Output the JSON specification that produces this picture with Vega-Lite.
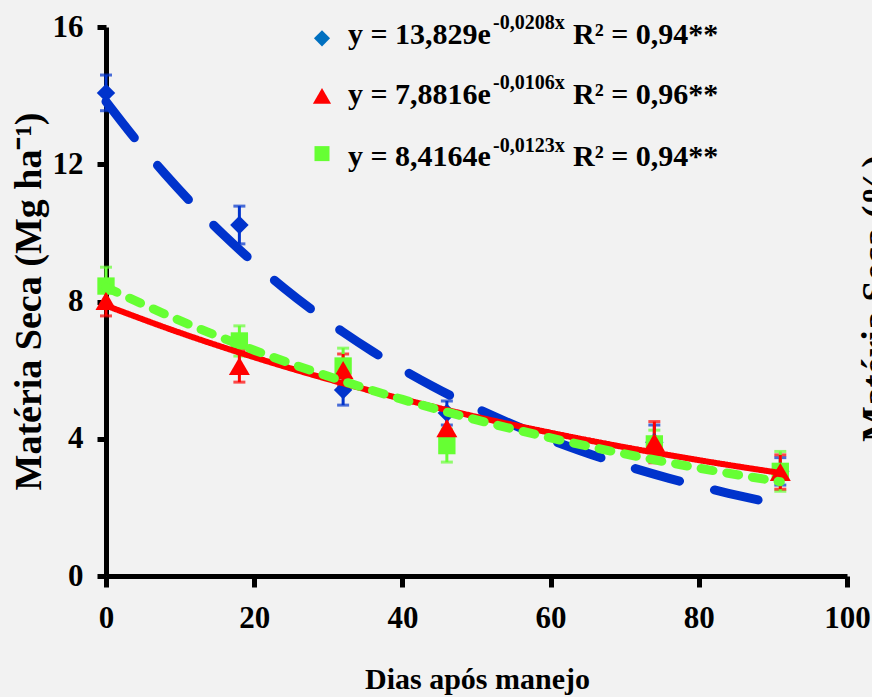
{
  "$schema": "https://vega.github.io/schema/vega-lite/v6.json",
  "width": 741,
  "height": 549,
  "autosize": {"type": "none"},
  "padding": {"left": 106, "top": 27, "right": 25, "bottom": 121},
  "background": "#f2f2f2",
  "config": {
    "view": {"stroke": null},
    "axis": {
      "domainColor": "#000000",
      "domainWidth": 5,
      "tickColor": "#000000",
      "tickWidth": 5,
      "labelColor": "#000000",
      "labelFont": "Liberation Serif",
      "labelFontWeight": "bold",
      "labelFontSize": 31,
      "labelFlush": false,
      "labelOverlap": false,
      "titleFont": "Liberation Serif",
      "titleFontWeight": "bold",
      "titleColor": "#000000",
      "grid": false,
      "zindex": 1
    },
    "axisX": {"tickSize": 11, "labelPadding": 16},
    "axisLeft": {"tickSize": 9, "labelPadding": 14}
  },
  "datasets": {
    "medias": [
      {"serie": "1", "dias": 0, "ms": 14.08, "ep": 0.52},
      {"serie": "1", "dias": 18, "ms": 10.23, "ep": 0.55},
      {"serie": "1", "dias": 32, "ms": 5.42, "ep": 0.44},
      {"serie": "1", "dias": 46, "ms": 4.75, "ep": 0.35},
      {"serie": "1", "dias": 74, "ms": 3.9, "ep": 0.5},
      {"serie": "1", "dias": 91, "ms": 3.05, "ep": 0.4},
      {"serie": "3", "dias": 0, "ms": 8.45, "ep": 0.55},
      {"serie": "3", "dias": 18, "ms": 6.85, "ep": 0.44},
      {"serie": "3", "dias": 32, "ms": 6.12, "ep": 0.52},
      {"serie": "3", "dias": 46, "ms": 3.8, "ep": 0.48},
      {"serie": "3", "dias": 74, "ms": 3.85, "ep": 0.4},
      {"serie": "3", "dias": 91, "ms": 3.05, "ep": 0.58},
      {"serie": "2", "dias": 0, "ms": 8.02, "ep": 0.44},
      {"serie": "2", "dias": 18, "ms": 6.12, "ep": 0.47},
      {"serie": "2", "dias": 32, "ms": 6.0, "ep": 0.47},
      {"serie": "2", "dias": 46, "ms": 4.31, "ep": 0.4},
      {"serie": "2", "dias": 74, "ms": 3.9, "ep": 0.6},
      {"serie": "2", "dias": 91, "ms": 3.03, "ep": 0.5}
    ],
    "curvas": [
      {"serie": "1", "dias": 0, "ms": 13.829},
      {"serie": "1", "dias": 4, "ms": 12.725},
      {"serie": "1", "dias": 8, "ms": 11.709},
      {"serie": "1", "dias": 12, "ms": 10.774},
      {"serie": "1", "dias": 16, "ms": 9.914},
      {"serie": "1", "dias": 20, "ms": 9.123},
      {"serie": "1", "dias": 24, "ms": 8.394},
      {"serie": "1", "dias": 28, "ms": 7.724},
      {"serie": "1", "dias": 32, "ms": 7.108},
      {"serie": "1", "dias": 36, "ms": 6.54},
      {"serie": "1", "dias": 40, "ms": 6.018},
      {"serie": "1", "dias": 44, "ms": 5.538},
      {"serie": "1", "dias": 48, "ms": 5.096},
      {"serie": "1", "dias": 52, "ms": 4.689},
      {"serie": "1", "dias": 56, "ms": 4.314},
      {"serie": "1", "dias": 60, "ms": 3.97},
      {"serie": "1", "dias": 64, "ms": 3.653},
      {"serie": "1", "dias": 68, "ms": 3.361},
      {"serie": "1", "dias": 72, "ms": 3.093},
      {"serie": "1", "dias": 76, "ms": 2.846},
      {"serie": "1", "dias": 80, "ms": 2.619},
      {"serie": "1", "dias": 84, "ms": 2.41},
      {"serie": "1", "dias": 88, "ms": 2.217},
      {"serie": "2", "dias": 0, "ms": 7.882},
      {"serie": "2", "dias": 10, "ms": 7.089},
      {"serie": "2", "dias": 20, "ms": 6.376},
      {"serie": "2", "dias": 30, "ms": 5.735},
      {"serie": "2", "dias": 40, "ms": 5.158},
      {"serie": "2", "dias": 50, "ms": 4.639},
      {"serie": "2", "dias": 60, "ms": 4.173},
      {"serie": "2", "dias": 70, "ms": 3.753},
      {"serie": "2", "dias": 80, "ms": 3.376},
      {"serie": "2", "dias": 90, "ms": 3.036},
      {"serie": "2", "dias": 91, "ms": 3.004},
      {"serie": "3", "dias": 0, "ms": 8.416},
      {"serie": "3", "dias": 10, "ms": 7.442},
      {"serie": "3", "dias": 20, "ms": 6.581},
      {"serie": "3", "dias": 30, "ms": 5.819},
      {"serie": "3", "dias": 40, "ms": 5.146},
      {"serie": "3", "dias": 50, "ms": 4.55},
      {"serie": "3", "dias": 60, "ms": 4.024},
      {"serie": "3", "dias": 70, "ms": 3.558},
      {"serie": "3", "dias": 80, "ms": 3.146},
      {"serie": "3", "dias": 90, "ms": 2.782},
      {"serie": "3", "dias": 91, "ms": 2.748}
    ],
    "legenda": [
      {"serie": "1", "eq": "y = 13,829e", "exp": "-0,0208x", "r2": "R² = 0,94**"},
      {"serie": "2", "eq": "y = 7,8816e", "exp": "-0,0106x", "r2": "R² = 0,96**"},
      {"serie": "3", "eq": "y = 8,4164e", "exp": "-0,0123x", "r2": "R² = 0,94**"}
    ]
  },
  "resolve": {"axis": {"y": "independent"}},
  "layer": [
    {
      "data": {"name": "medias"},
      "mark": {"type": "errorbar", "ticks": true, "size": 12, "thickness": 3},
      "encoding": {
        "x": {"field": "dias", "type": "quantitative", "scale": {"domain": [0, 100], "nice": false}},
        "y": {"field": "ms", "type": "quantitative", "scale": {"domain": [0, 16], "nice": false}, "axis": null},
        "yError": {"field": "ep"},
        "color": {"field": "serie", "type": "nominal", "scale": {"domain": ["1", "2", "3"], "range": ["#0033cc", "#ff0000", "#66ff33"]}, "legend": null}
      }
    },
    {
      "data": {"name": "medias"},
      "mark": {"type": "point", "filled": true, "opacity": 1},
      "encoding": {
        "x": {
          "field": "dias", "type": "quantitative",
          "scale": {"domain": [0, 100], "nice": false},
          "axis": {
            "values": [0, 20, 40, 60, 80, 100],
            "title": "Dias após manejo",
            "titleFontSize": 30,
            "titleX": 371,
            "titleY": 112,
            "titleAlign": "center",
            "titleBaseline": "alphabetic"
          }
        },
        "y": {
          "field": "ms", "type": "quantitative",
          "scale": {"domain": [0, 16], "nice": false},
          "axis": {
            "orient": "left",
            "values": [0, 4, 8, 12, 16],
            "title": "Matéria Seca (Mg ha⁻¹)",
            "titleFontSize": 38,
            "titleAngle": -90,
            "titleX": -66,
            "titleY": 274,
            "titleAlign": "center",
            "titleBaseline": "alphabetic"
          }
        },
        "color": {"field": "serie", "type": "nominal", "scale": {"domain": ["1", "2", "3"], "range": ["#0033cc", "#ff0000", "#66ff33"]}, "legend": null},
        "shape": {"field": "serie", "type": "nominal", "scale": {"domain": ["1", "2", "3"], "range": ["diamond", "triangle-up", "square"]}, "legend": null},
        "size": {"field": "serie", "type": "nominal", "scale": {"type": "ordinal", "domain": ["1", "2", "3"], "range": [340, 440, 300]}, "legend": null}
      }
    },
    {
      "data": {"name": "curvas"},
      "mark": {"type": "line", "strokeCap": "round", "interpolate": "monotone"},
      "encoding": {
        "x": {"field": "dias", "type": "quantitative", "scale": {"domain": [0, 100], "nice": false}},
        "y": {
          "field": "ms", "type": "quantitative",
          "scale": {"domain": [0, 16], "nice": false},
          "axis": {
            "orient": "right",
            "title": "Matéria Seca (%)",
            "labels": false,
            "ticks": false,
            "domain": false,
            "titleFontSize": 38,
            "titleAngle": -90,
            "titleX": 40,
            "titleY": 271,
            "titleAlign": "center",
            "titleBaseline": "alphabetic"
          }
        },
        "color": {"field": "serie", "type": "nominal", "scale": {"domain": ["1", "2", "3"], "range": ["#0033cc", "#ff0000", "#66ff33"]}, "legend": null},
        "strokeDash": {"field": "serie", "type": "nominal", "scale": {"domain": ["1", "2", "3"], "range": [[46, 36], [1, 0], [12, 14]]}, "legend": null},
        "strokeWidth": {"field": "serie", "type": "nominal", "scale": {"type": "ordinal", "domain": ["1", "2", "3"], "range": [9, 6, 9]}, "legend": null}
      }
    },
    {
      "data": {"name": "legenda"},
      "transform": [{"filter": "datum.serie == '1'"}],
      "layer": [
        {
          "mark": {"type": "point", "shape": "diamond", "filled": true, "opacity": 1, "color": "#0070c0", "size": 260},
          "encoding": {"x": {"datum": 29.15, "type": "quantitative"}, "y": {"datum": 15.67, "type": "quantitative", "axis": null}}
        },
        {
          "mark": {"type": "text", "align": "left", "baseline": "alphabetic", "font": "Liberation Serif", "fontWeight": "bold", "fontSize": 30, "color": "#000000"},
          "encoding": {"x": {"datum": 32.66, "type": "quantitative"}, "y": {"datum": 15.51, "type": "quantitative", "axis": null}, "text": {"field": "eq"}}
        },
        {
          "mark": {"type": "text", "align": "left", "baseline": "alphabetic", "font": "Liberation Serif", "fontWeight": "bold", "fontSize": 20, "color": "#000000"},
          "encoding": {"x": {"datum": 52.23, "type": "quantitative"}, "y": {"datum": 15.93, "type": "quantitative", "axis": null}, "text": {"field": "exp"}}
        },
        {
          "mark": {"type": "text", "align": "left", "baseline": "alphabetic", "font": "Liberation Serif", "fontWeight": "bold", "fontSize": 30, "color": "#000000"},
          "encoding": {"x": {"datum": 63.02, "type": "quantitative"}, "y": {"datum": 15.51, "type": "quantitative", "axis": null}, "text": {"field": "r2"}}
        }
      ]
    },
    {
      "data": {"name": "legenda"},
      "transform": [{"filter": "datum.serie == '2'"}],
      "layer": [
        {
          "mark": {"type": "point", "shape": "triangle-up", "filled": true, "opacity": 1, "color": "#ff0000", "size": 330},
          "encoding": {"x": {"datum": 29.15, "type": "quantitative"}, "y": {"datum": 13.99, "type": "quantitative", "axis": null}}
        },
        {
          "mark": {"type": "text", "align": "left", "baseline": "alphabetic", "font": "Liberation Serif", "fontWeight": "bold", "fontSize": 30, "color": "#000000"},
          "encoding": {"x": {"datum": 32.66, "type": "quantitative"}, "y": {"datum": 13.76, "type": "quantitative", "axis": null}, "text": {"field": "eq"}}
        },
        {
          "mark": {"type": "text", "align": "left", "baseline": "alphabetic", "font": "Liberation Serif", "fontWeight": "bold", "fontSize": 20, "color": "#000000"},
          "encoding": {"x": {"datum": 52.23, "type": "quantitative"}, "y": {"datum": 14.18, "type": "quantitative", "axis": null}, "text": {"field": "exp"}}
        },
        {
          "mark": {"type": "text", "align": "left", "baseline": "alphabetic", "font": "Liberation Serif", "fontWeight": "bold", "fontSize": 30, "color": "#000000"},
          "encoding": {"x": {"datum": 63.02, "type": "quantitative"}, "y": {"datum": 13.76, "type": "quantitative", "axis": null}, "text": {"field": "r2"}}
        }
      ]
    },
    {
      "data": {"name": "legenda"},
      "transform": [{"filter": "datum.serie == '3'"}],
      "layer": [
        {
          "mark": {"type": "point", "shape": "square", "filled": true, "opacity": 1, "color": "#66ff33", "size": 225},
          "encoding": {"x": {"datum": 29.15, "type": "quantitative"}, "y": {"datum": 12.31, "type": "quantitative", "axis": null}}
        },
        {
          "mark": {"type": "text", "align": "left", "baseline": "alphabetic", "font": "Liberation Serif", "fontWeight": "bold", "fontSize": 30, "color": "#000000"},
          "encoding": {"x": {"datum": 32.66, "type": "quantitative"}, "y": {"datum": 11.96, "type": "quantitative", "axis": null}, "text": {"field": "eq"}}
        },
        {
          "mark": {"type": "text", "align": "left", "baseline": "alphabetic", "font": "Liberation Serif", "fontWeight": "bold", "fontSize": 20, "color": "#000000"},
          "encoding": {"x": {"datum": 52.23, "type": "quantitative"}, "y": {"datum": 12.36, "type": "quantitative", "axis": null}, "text": {"field": "exp"}}
        },
        {
          "mark": {"type": "text", "align": "left", "baseline": "alphabetic", "font": "Liberation Serif", "fontWeight": "bold", "fontSize": 30, "color": "#000000"},
          "encoding": {"x": {"datum": 63.02, "type": "quantitative"}, "y": {"datum": 11.96, "type": "quantitative", "axis": null}, "text": {"field": "r2"}}
        }
      ]
    }
  ]
}
